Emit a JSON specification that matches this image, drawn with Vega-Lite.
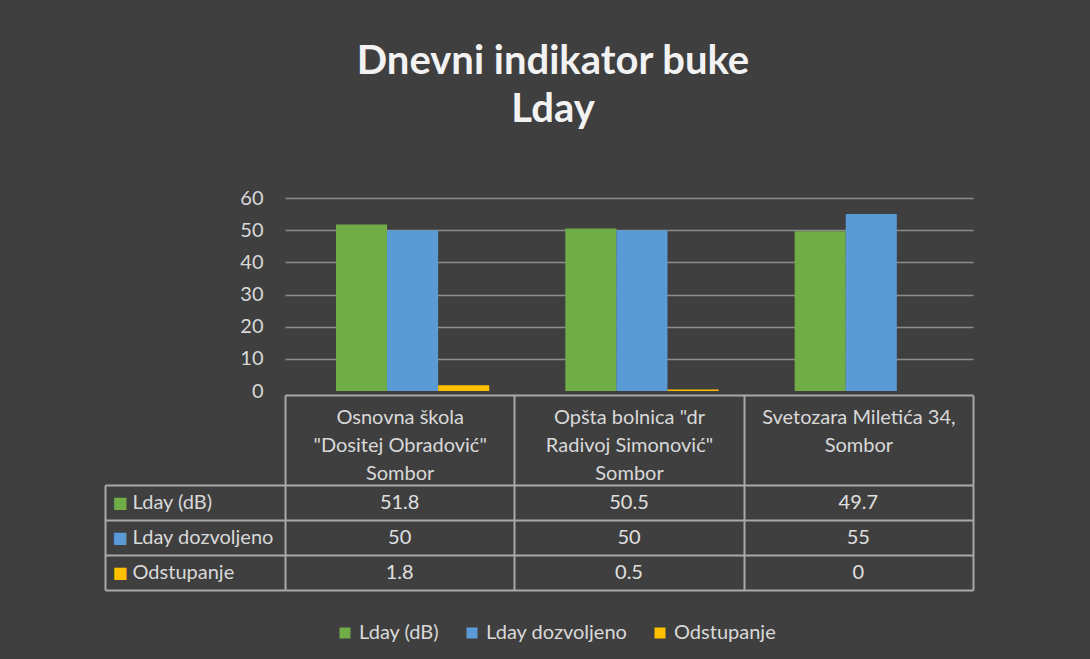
{
  "$schema": "https://vega.github.io/schema/vega-lite/v6.json",
  "background": "#3f3f3f",
  "padding": {"left": 104, "top": 42, "right": 116, "bottom": 18},
  "title": {
    "text": ["Dnevni indikator buke", "Lday"],
    "font": "Lato",
    "fontSize": 40,
    "fontWeight": "bold",
    "color": "#f2f2f2",
    "lineHeight": 48,
    "anchor": "middle",
    "frame": "bounds",
    "dx": 14,
    "offset": 58
  },
  "datasets": {
    "noise": [
      {"location": "Osnovna škola\n\"Dositej Obradović\"\nSombor", "series": "Lday (dB)", "value": 51.8},
      {"location": "Osnovna škola\n\"Dositej Obradović\"\nSombor", "series": "Lday dozvoljeno", "value": 50},
      {"location": "Osnovna škola\n\"Dositej Obradović\"\nSombor", "series": "Odstupanje", "value": 1.8},
      {"location": "Opšta bolnica \"dr\nRadivoj Simonović\"\nSombor", "series": "Lday (dB)", "value": 50.5},
      {"location": "Opšta bolnica \"dr\nRadivoj Simonović\"\nSombor", "series": "Lday dozvoljeno", "value": 50},
      {"location": "Opšta bolnica \"dr\nRadivoj Simonović\"\nSombor", "series": "Odstupanje", "value": 0.5},
      {"location": "Svetozara Miletića 34,\nSombor", "series": "Lday (dB)", "value": 49.7},
      {"location": "Svetozara Miletića 34,\nSombor", "series": "Lday dozvoljeno", "value": 55},
      {"location": "Svetozara Miletića 34,\nSombor", "series": "Odstupanje", "value": 0}
    ]
  },
  "bounds": "flush",
  "spacing": 94,
  "vconcat": [
    {
      "width": 688,
      "height": 193,
      "data": {"name": "noise"},
      "mark": {"type": "bar"},
      "encoding": {
        "x": {
          "field": "location", "type": "nominal", "sort": null,
          "scale": {"paddingInner": 0, "paddingOuter": 0},
          "axis": {
            "orient": "bottom", "offset": 4, "title": null,
            "domainColor": "#a9a9a9", "domainWidth": 2,
            "ticks": true, "tickBand": "extent", "tickSize": 90, "tickColor": "#a9a9a9", "tickWidth": 2,
            "grid": false,
            "labelAngle": 0, "labelExpr": "split(datum.label, '\\n')",
            "labelColor": "#d9d9d9", "labelFont": "Lato", "labelFontSize": 20,
            "labelLineHeight": 28, "labelPadding": -78, "labelBaseline": "top",
            "labelLimit": 225, "labelOverlap": false, "labelBound": false
          }
        },
        "xOffset": {
          "field": "series", "type": "nominal", "sort": null,
          "scale": {"domain": ["Lday (dB)", "Lday dozvoljeno", "Odstupanje"], "paddingInner": 0, "paddingOuter": 0.745, "align": 0.67}
        },
        "y": {
          "field": "value", "type": "quantitative",
          "scale": {"domain": [0, 60], "nice": false},
          "axis": {
            "values": [0, 10, 20, 30, 40, 50, 60], "title": null,
            "domain": false, "ticks": false,
            "labelColor": "#d9d9d9", "labelFont": "Lato", "labelFontSize": 20, "labelPadding": 22,
            "gridColor": "#8c8c8c", "gridWidth": 1.5,
            "gridOpacity": {"condition": {"test": "datum.value === 0", "value": 0}, "value": 1}
          }
        },
        "color": {
          "field": "series", "type": "nominal", "sort": null,
          "scale": {"domain": ["Lday (dB)", "Lday dozvoljeno", "Odstupanje"], "range": ["#70ad47", "#5b9bd5", "#ffc000"]},
          "legend": {
            "title": null, "orient": "none", "direction": "horizontal",
            "legendX": 50, "legendY": 425,
            "symbolType": "square", "symbolSize": 121, "symbolStrokeWidth": 0, "symbolOpacity": 1,
            "labelColor": "#d9d9d9", "labelFont": "Lato", "labelFontSize": 20,
            "columnPadding": 22, "labelOffset": 4
          }
        }
      }
    },
    {
      "width": 688,
      "height": 105,
      "data": {"name": "noise"},
      "layer": [
        {
          "mark": {"type": "text", "font": "Lato", "fontSize": 20, "color": "#e0e0e0"},
          "encoding": {
            "x": {
              "field": "location", "type": "nominal", "sort": null,
              "scale": {"paddingInner": 0, "paddingOuter": 0},
              "axis": {
                "orient": "top", "title": null, "labels": false, "ticks": false, "domain": false,
                "grid": true, "tickBand": "extent", "gridColor": "#a9a9a9", "gridWidth": 2
              }
            },
            "y": {
              "field": "series", "type": "nominal", "sort": null,
              "scale": {"domain": ["Lday (dB)", "Lday dozvoljeno", "Odstupanje"], "paddingInner": 0, "paddingOuter": 0},
              "axis": {
                "orient": "left", "offset": 180, "title": null,
                "domain": true, "domainColor": "#a9a9a9", "domainWidth": 2,
                "ticks": true, "tickBand": "extent", "tickSize": -180, "tickColor": "#a9a9a9", "tickWidth": 2,
                "grid": true, "gridColor": "#a9a9a9", "gridWidth": 2,
                "labelAlign": "left", "labelPadding": 153,
                "labelColor": "#d9d9d9", "labelFont": "Lato", "labelFontSize": 20, "labelLimit": 172
              }
            },
            "text": {"field": "value", "type": "quantitative"}
          }
        },
        {
          "mark": {"type": "text", "text": ""},
          "encoding": {
            "y": {
              "field": "series", "type": "nominal", "sort": null,
              "axis": {
                "orient": "left", "offset": 180, "title": null,
                "domain": false, "ticks": false, "grid": false,
                "labelExpr": "'■'", "labelAlign": "left", "labelPadding": -7,
                "labelFont": "DejaVu Sans", "labelFontSize": 16,
                "labelColor": {
                  "condition": [
                    {"test": "datum.value === 'Lday (dB)'", "value": "#70ad47"},
                    {"test": "datum.value === 'Lday dozvoljeno'", "value": "#5b9bd5"}
                  ],
                  "value": "#ffc000"
                }
              }
            }
          }
        }
      ],
      "resolve": {"axis": {"y": "independent"}}
    }
  ],
  "config": {
    "view": {"stroke": null},
    "font": "Lato"
  }
}
